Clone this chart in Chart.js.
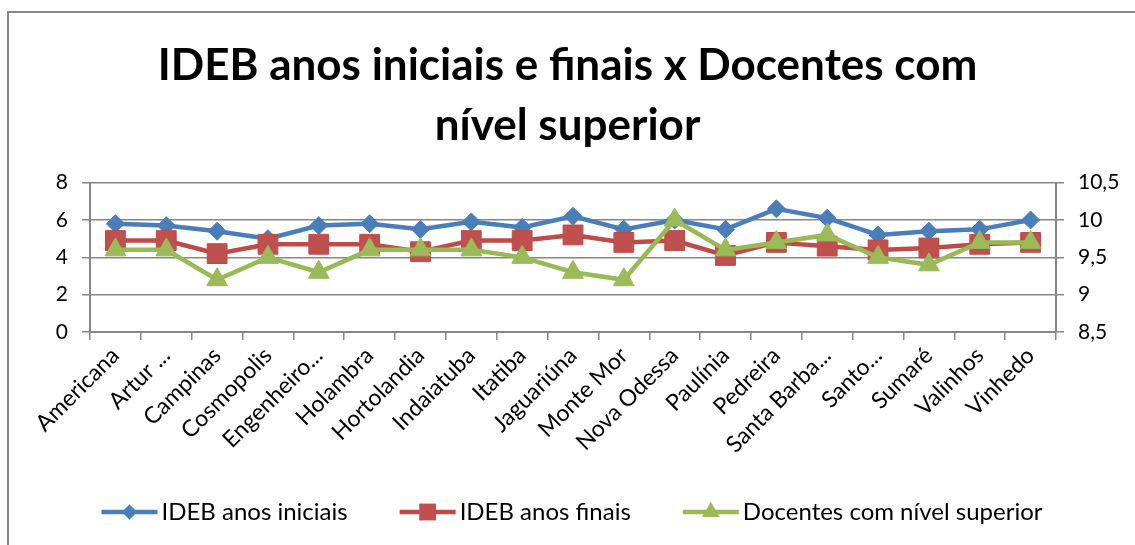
<!DOCTYPE html>
<html>
<head>
<meta charset="utf-8">
<script src="https://cdn.jsdelivr.net/npm/chart.js@4.4.1/dist/chart.umd.min.js"></script>
<style>
  html, body { margin: 0; padding: 0; background: #fff; overflow: hidden; }
  #wrap { width: 1135px; height: 545px; position: relative; }
</style>
</head>
<body>
<div id="wrap"><canvas id="myChart-line"></canvas></div>
<script>
/* IDEB x docentes com nível superior - RMC */

const municipios = ['Americana', 'Artur ...', 'Campinas', 'Cosmopolis', 'Engenheiro...', 'Holambra',
    'Hortolandia', 'Indaiatuba', 'Itatiba', 'Jaguariúna', 'Monte Mor', 'Nova Odessa', 'Paulínia',
    'Pedreira', 'Santa Barba...', 'Santo...', 'Sumaré', 'Valinhos', 'Vinhedo'];
const idebIniciais = [5.8, 5.7, 5.4, 5.0, 5.7, 5.8, 5.5, 5.9, 5.6, 6.2, 5.5, 6.0, 5.5, 6.6, 6.1, 5.2, 5.4, 5.5, 6.0];
const idebFinais = [4.9, 4.9, 4.2, 4.7, 4.7, 4.7, 4.3, 4.9, 4.9, 5.2, 4.8, 4.9, 4.1, 4.8, 4.6, 4.4, 4.5, 4.7, 4.8];
const docentesSuperior = [9.6, 9.6, 9.2, 9.5, 9.3, 9.6, 9.6, 9.6, 9.5, 9.3, 9.2, 10.0, 9.6, 9.7, 9.8, 9.5, 9.4, 9.7, 9.7];

const fonte = 'Lato';
const cinza = '#868686';

// moldura cinza do gráfico (só esquerda e topo aparecem)
const moldura = {
    id: 'moldura',
    beforeDraw(chart) {
        const ctx = chart.ctx;
        ctx.save();
        ctx.strokeStyle = cinza;
        ctx.lineWidth = 2;
        ctx.beginPath();
        ctx.moveTo(8, 545);
        ctx.lineTo(8, 12);
        ctx.lineTo(1135, 12);
        ctx.stroke();
        ctx.restore();
    }
};

function marcador(ctx, estilo, x, y, r) {
    ctx.beginPath();
    if (estilo === 'rectRot') {
        ctx.moveTo(x, y - r); ctx.lineTo(x + r, y); ctx.lineTo(x, y + r); ctx.lineTo(x - r, y);
    } else if (estilo === 'rect') {
        const s = r * Math.SQRT1_2;
        ctx.rect(x - s, y - s, 2 * s, 2 * s);
    } else {
        ctx.moveTo(x, y - r); ctx.lineTo(x + r * 0.866, y + r * 0.5); ctx.lineTo(x - r * 0.866, y + r * 0.5);
    }
    ctx.closePath();
    ctx.fill();
}

// legenda estilo Excel: linha + marcador (a linha termina junto ao texto)
const legendaLinha = {
    id: 'legendaLinha',
    afterDraw(chart) {
        const lg = chart.legend;
        const ctx = chart.ctx;
        const bw = lg.options.labels.boxWidth;
        lg.legendItems.forEach((item, i) => {
            const box = lg.legendHitBoxes[i];
            const ds = chart.data.datasets[item.datasetIndex];
            const cy = box.top + box.height / 2;
            const x1 = box.left + bw + 8;
            const x0 = x1 - 56;
            ctx.save();
            ctx.strokeStyle = ds.borderColor;
            ctx.fillStyle = ds.backgroundColor;
            ctx.lineWidth = 4.5;
            ctx.beginPath();
            ctx.moveTo(x0, cy);
            ctx.lineTo(x1, cy);
            ctx.stroke();
            marcador(ctx, ds.pointStyle, (x0 + x1) / 2, cy, ds.pointRadius * 0.85);
            ctx.restore();
        });
    }
};

let ctx0 = document.getElementById('myChart-line').getContext('2d');
var chart = new Chart(ctx0, {
    type: 'line',
    data: {
        labels: municipios,
        datasets: [{
            label: 'IDEB anos iniciais',
            data: idebIniciais,
            yAxisID: 'y',
            borderColor: '#4A7EBB',
            backgroundColor: '#4A7EBB',
            borderWidth: 4.5,
            pointStyle: 'rectRot',
            pointRadius: 9,
            pointBorderWidth: 1,
            order: 3
        }, {
            label: 'IDEB anos finais',
            data: idebFinais,
            yAxisID: 'y',
            borderColor: '#BE4B48',
            backgroundColor: '#C0504D',
            borderWidth: 4.5,
            pointStyle: 'rect',
            pointRadius: 14,
            pointBorderWidth: 1,
            order: 2
        }, {
            label: 'Docentes com nível superior',
            data: docentesSuperior,
            yAxisID: 'y1',
            borderColor: '#98B954',
            backgroundColor: '#9BBB59',
            borderWidth: 4.5,
            pointStyle: 'triangle',
            pointRadius: 12,
            pointBorderWidth: 1,
            order: 1
        }]
    },
    options: {
        responsive: true,
        maintainAspectRatio: false,
        animation: false,
        layout: { padding: { left: 0, right: 0, top: 0, bottom: 13 } },
        plugins: {
            title: {
                display: true,
                text: ['IDEB anos iniciais e finais x Docentes com', 'nível superior'],
                color: '#000',
                font: { family: fonte, size: 44, weight: 'bold', lineHeight: 1.36 },
                padding: { top: 36, bottom: 27 }
            },
            legend: {
                position: 'bottom',
                maxHeight: 75,
                labels: {
                    sort: (a, b) => a.datasetIndex - b.datasetIndex,
                    boxWidth: 57,
                    boxHeight: 20,
                    color: '#000',
                    font: { family: fonte, size: 24 },
                    padding: 43,
                    generateLabels: c => Chart.defaults.plugins.legend.labels.generateLabels(c).map(l =>
                        Object.assign(l, { fillStyle: 'rgba(0,0,0,0)', strokeStyle: 'rgba(0,0,0,0)', lineWidth: 0 }))
                }
            },
            tooltip: { enabled: false }
        },
        scales: {
            x: {
                offset: true,
                grid: { offset: true, drawOnChartArea: false, tickLength: 8, color: cinza, lineWidth: 1.5 },
                border: { color: cinza, width: 2 },
                ticks: { autoSkip: false, minRotation: 45, maxRotation: 45, color: '#000', font: { family: fonte, size: 23 }, padding: 2 },
                afterFit: s => { s.height = 125; }
            },
            y: {
                position: 'left',
                min: 0,
                max: 8,
                ticks: { stepSize: 2, color: '#000', font: { family: fonte, size: 21 }, padding: 14 },
                grid: { color: cinza, lineWidth: 1.5, tickLength: 8 },
                border: { color: cinza, width: 2 },
                afterFit: s => { s.width = 90; }
            },
            y1: {
                position: 'right',
                min: 8.5,
                max: 10.5,
                ticks: {
                    stepSize: 0.5, color: '#000', font: { family: fonte, size: 21 }, padding: 14,
                    callback: v => String(v).replace('.', ',')
                },
                grid: { drawOnChartArea: false, color: cinza, lineWidth: 1.5, tickLength: 8 },
                border: { color: cinza, width: 2 },
                afterFit: s => { s.width = 79; }
            }
        }
    },
    plugins: [moldura, legendaLinha]
});
</script>
</body>
</html>
